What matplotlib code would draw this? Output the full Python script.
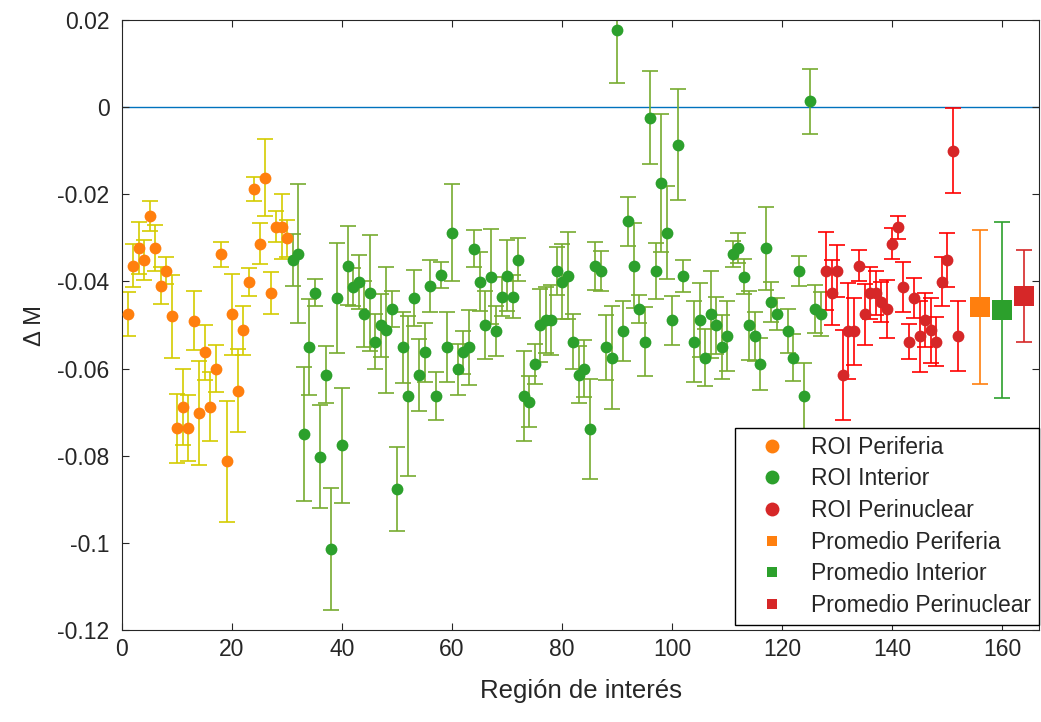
import numpy as np
import matplotlib
matplotlib.use("Agg")
from matplotlib import pyplot as plt

# ROI Periferia (x = 1..30)
x_per = np.arange(1, 31)
y_per = [-0.0475, -0.0364, -0.0324, -0.0350, -0.0250, -0.0324, -0.0410, -0.0375,
         -0.0480, -0.0737, -0.0688, -0.0737, -0.0490, -0.0702, -0.0563, -0.0688,
         -0.0600, -0.0338, -0.0813, -0.0475, -0.0651, -0.0512, -0.0401, -0.0188,
         -0.0313, -0.0162, -0.0426, -0.0274, -0.0274, -0.0301]
e_per = [0.0051, 0.0049, 0.0060, 0.0046, 0.0034, 0.0053, 0.0042, 0.0030,
         0.0095, 0.0079, 0.0088, 0.0076, 0.0068, 0.0120, 0.0064, 0.0079,
         0.0054, 0.0028, 0.0138, 0.0093, 0.0095, 0.0056, 0.0032, 0.0027,
         0.0046, 0.0088, 0.0048, 0.0036, 0.0075, 0.0042]

# ROI Interior (x = 31..127, no 103 / 120)
x_int = [i for i in range(31, 128) if i not in (103, 120)]
y_int = [-0.0350, -0.0336, -0.0751, -0.0551, -0.0426, -0.0802, -0.0614, -0.1015,
         -0.0438, -0.0776, -0.0364, -0.0413, -0.0401, -0.0475, -0.0426, -0.0538,
         -0.0501, -0.0512, -0.0463, -0.0876, -0.0551, -0.0663, -0.0438, -0.0614,
         -0.0563, -0.0410, -0.0663, -0.0385, -0.0551, -0.0288, -0.0602, -0.0563,
         -0.0551, -0.0325, -0.0401, -0.0501, -0.0389, -0.0514, -0.0435, -0.0387,
         -0.0435, -0.0350, -0.0663, -0.0676, -0.0589, -0.0501, -0.0489, -0.0489,
         -0.0376, -0.0401, -0.0387, -0.0538, -0.0614, -0.0600, -0.0739, -0.0364,
         -0.0376, -0.0551, -0.0575, 0.0176, -0.0514, -0.0262, -0.0364, -0.0463,
         -0.0538, -0.0024, -0.0376, -0.0174, -0.0288, -0.0489, -0.0086, -0.0387,
         -0.0538, -0.0489, -0.0575, -0.0475, -0.0501, -0.0551, -0.0526, -0.0338,
         -0.0324, -0.0389, -0.0501, -0.0526, -0.0589, -0.0324, -0.0447, -0.0475,
         -0.0514, -0.0575, -0.0376, -0.0663, 0.0013, -0.0463, -0.0475]
e_int = [0.0060, 0.0160, 0.0154, 0.0110, 0.0031, 0.0119, 0.0066, 0.0140,
         0.0126, 0.0132, 0.0091, 0.0044, 0.0062, 0.0075, 0.0133, 0.0063,
         0.0073, 0.0145, 0.0042, 0.0097, 0.0081, 0.0183, 0.0065, 0.0083,
         0.0067, 0.0060, 0.0054, 0.0030, 0.0080, 0.0111, 0.0059, 0.0050,
         0.0086, 0.0042, 0.0068, 0.0078, 0.0109, 0.0057, 0.0045, 0.0082,
         0.0050, 0.0050, 0.0103, 0.0058, 0.0046, 0.0083, 0.0076, 0.0080,
         0.0056, 0.0086, 0.0100, 0.0064, 0.0066, 0.0065, 0.0114, 0.0055,
         0.0045, 0.0075, 0.0118, 0.0120, 0.0069, 0.0056, 0.0097, 0.0033,
         0.0080, 0.0107, 0.0064, 0.0159, 0.0107, 0.0056, 0.0128, 0.0037,
         0.0093, 0.0085, 0.0066, 0.0100, 0.0065, 0.0074, 0.0080, 0.0030,
         0.0034, 0.0040, 0.0080, 0.0056, 0.0060, 0.0095, 0.0046, 0.0037,
         0.0050, 0.0054, 0.0034, 0.0075, 0.0074, 0.0055, 0.0050]

# ROI Perinuclear (x = 128..152)
x_pnu = np.arange(128, 153)
y_pnu = [-0.0376, -0.0426, -0.0376, -0.0614, -0.0514, -0.0514, -0.0364, -0.0475,
         -0.0426, -0.0426, -0.0447, -0.0463, -0.0313, -0.0276, -0.0413, -0.0538,
         -0.0438, -0.0526, -0.0489, -0.0512, -0.0538, -0.0401, -0.0350, -0.0100,
         -0.0526]
e_pnu = [0.0090, 0.0075, 0.0060, 0.0103, 0.0110, 0.0077, 0.0035, 0.0070,
         0.0060, 0.0050, 0.0046, 0.0067, 0.0035, 0.0026, 0.0057, 0.0040,
         0.0045, 0.0081, 0.0062, 0.0075, 0.0056, 0.0056, 0.0062, 0.0097,
         0.0080]

# Promedios
x_avg = [156, 160, 164]
y_avg = [-0.0458, -0.0466, -0.0433]
e_avg = [0.0177, 0.0202, 0.0105]

c_orange = "#FF7F0E"
c_green = "#2CA02C"
c_red = "#D62728"

plt.rcParams["font.family"] = ["Liberation Sans", "DejaVu Sans"]
txt = "#262626"

fig = plt.figure(figsize=(10.41, 7.22), dpi=100)
ax = fig.add_axes([122 / 1041, 1 - 630 / 722, 917 / 1041, 610 / 722])

ax.axhline(0, color="#0072BD", lw=1.0, zorder=1)

ekw = dict(fmt="none", elinewidth=1.2, capsize=6, capthick=1.2, zorder=2)
ax.errorbar(x_per, y_per, yerr=e_per, ecolor="#D4CC00", **ekw)
ax.errorbar(x_int, y_int, yerr=e_int, ecolor="#77AC30", **ekw)
ax.errorbar(x_pnu, y_pnu, yerr=e_pnu, ecolor="#FF0000", **ekw)
ax.errorbar(x_avg[0], y_avg[0], yerr=e_avg[0], ecolor=c_orange, **ekw)
ax.errorbar(x_avg[1], y_avg[1], yerr=e_avg[1], ecolor=c_green, **ekw)
ax.errorbar(x_avg[2], y_avg[2], yerr=e_avg[2], ecolor=c_red, **ekw)

mk = dict(ls="none", marker="o", ms=8.5, mew=0, zorder=3)
ax.plot(x_per, y_per, color=c_orange, label="ROI Periferia", **mk)
ax.plot(x_int, y_int, color=c_green, label="ROI Interior", **mk)
ax.plot(x_pnu, y_pnu, color=c_red, label="ROI Perinuclear", **mk)
sq = dict(ls="none", marker="s", ms=14, mew=0, zorder=3)
ax.plot(x_avg[0], y_avg[0], color=c_orange, label="Promedio Periferia", **sq)
ax.plot(x_avg[1], y_avg[1], color=c_green, label="Promedio Interior", **sq)
ax.plot(x_avg[2], y_avg[2], color=c_red, label="Promedio Perinuclear", **sq)

ax.set_xlim(0, 166.7)
ax.set_ylim(-0.12, 0.02)
ax.set_xticks(np.arange(0, 161, 20))
ax.set_yticks([-0.12, -0.1, -0.08, -0.06, -0.04, -0.02, 0, 0.02])
ax.set_yticklabels(["-0.12", "-0.1", "-0.08", "-0.06", "-0.04", "-0.02", "0", "0.02"])
ax.tick_params(direction="in", top=True, right=True, length=5, width=0.8,
               labelsize=16.5, colors=txt)
ax.tick_params(axis="x", pad=6)
ax.tick_params(axis="y", pad=9)
for s in ax.spines.values():
    s.set_color(txt)
    s.set_linewidth(0.8)

ax.set_xlabel("Región de interés", fontsize=18.5, color=txt, labelpad=13)
ax.set_ylabel("\u0394 M", fontsize=17, color=txt, labelpad=8)

leg = ax.legend(loc="lower right", bbox_to_anchor=(1.0, 0.008), borderaxespad=0,
                fontsize=16.5, frameon=True, fancybox=False, framealpha=1,
                edgecolor="black", labelspacing=0.38, handletextpad=0.45,
                borderpad=0.35, handlelength=2.5)
leg.get_frame().set_linewidth(1.0)
for t in leg.get_texts():
    t.set_color(txt)
for h in leg.legend_handles[3:]:
    h.set_markersize(7)
for h in leg.legend_handles[:3]:
    h.set_markersize(10)

fig.savefig("out.png", dpi=100)
